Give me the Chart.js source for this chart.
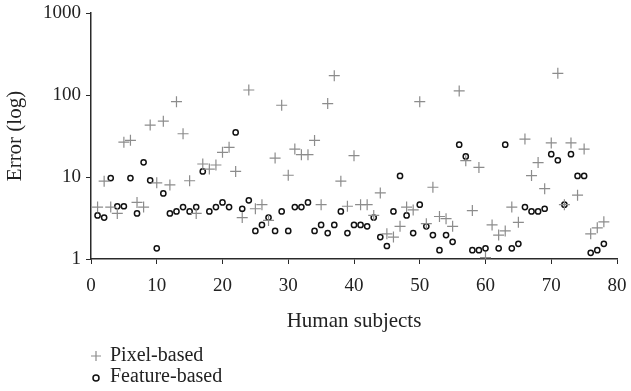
<!DOCTYPE html>
<html>
<head>
<meta charset="utf-8">
<script src="https://cdn.jsdelivr.net/npm/chart.js@4.4.0/dist/chart.umd.min.js"></script>
<style>
  html, body { margin: 0; padding: 0; background: #fff; }
  #wrap { width: 631px; height: 391px; position: relative; }
</style>
</head>
<body>
<div id="wrap"><canvas id="chart"></canvas></div>
<script>
// subjects on the x axis
const subjects = [
  1, 2, 3, 4, 5, 6, 7, 8, 9, 10, 11, 12, 13, 14, 15, 16, 17, 18, 19, 20,
  21, 22, 23, 24, 25, 26, 27, 28, 29, 30, 31, 32, 33, 34, 35, 36, 37, 38, 39, 40,
  41, 42, 43, 44, 45, 46, 47, 48, 49, 50, 51, 52, 53, 54, 55, 56, 57, 58, 59, 60,
  61, 62, 63, 64, 65, 66, 67, 68, 69, 70, 71, 72, 73, 74, 75, 76, 77, 78,
];

const pixelErrors = [
  4.3, 8.9, 4.3, 3.6, 26.6, 28, 4.9, 4.3, 43, 8.5,
  48, 8.0, 83, 33.7, 9.0, 3.6, 14.4, 12.5, 14, 20,
  23, 11.7, 3.2, 115, 4.1, 4.6, 2.95, 17, 75, 10.5,
  21.9, 18.7, 18.7, 27.9, 4.6, 78.6, 172, 8.9, 4.4, 18.2,
  4.6, 4.6, 3.4, 6.4, 2.03, 1.85, 2.5, 4.3, 3.97, 83,
  2.7, 7.5, 3.3, 3.1, 2.5, 112, 15.8, 3.9, 13.1, 1.04,
  2.6, 1.96, 2.2, 4.3, 2.8, 29, 10.4, 15, 7.2, 26,
  184, 4.6, 26, 6.0, 21.9, 2.03, 2.4, 2.84,
];

const featureErrors = [
  3.4, 3.2, 9.7, 4.4, 4.4, 9.7, 3.6, 15.1, 9.1, 1.35,
  6.3, 3.6, 3.8, 4.3, 3.8, 4.3, 11.7, 3.8, 4.3, 4.9,
  4.3, 35, 4.1, 5.2, 2.2, 2.6, 3.2, 2.2, 3.8, 2.2,
  4.3, 4.3, 4.9, 2.2, 2.6, 2.07, 2.6, 3.8, 2.07, 2.6,
  2.6, 2.5, 3.2, 1.85, 1.44, 3.8, 10.3, 3.4, 2.07, 4.6,
  2.5, 1.96, 1.28, 1.96, 1.62, 24.8, 17.8, 1.28, 1.28, 1.35,
  null, 1.35, 24.8, 1.35, 1.53, 4.3, 3.8, 3.8, 4.1, 19,
  16, 4.6, 19, 10.3, 10.3, 1.19, 1.28, 1.53,
];

const seriesNames = ['Pixel-based', 'Feature-based'];
const yTicks = [1, 10, 100, 1000];

const serif = "'Liberation Serif', 'DejaVu Serif', serif";
const axisColor = '#2a2a2a';

const toPoints = (values) => {
  return subjects
    .map((x, i) => ({ x: x, y: values[i] }))
    .filter((p) => p.y !== null);
};

// legend stacked under the axis title, drawn by hand
const stackedLegend = {
  id: 'stackedLegend',
  afterDraw(chart) {
    const ctx = chart.ctx;
    ctx.save();
    ctx.font = `20px ${serif}`;
    ctx.textBaseline = 'middle';
    ctx.fillStyle = '#222';
    chart.data.datasets.forEach((ds, i) => {
      const mx = 96;
      const my = 356 + i * 21;
      ctx.strokeStyle = ds.borderColor;
      ctx.lineWidth = ds.borderWidth;
      ctx.beginPath();
      if (ds.pointStyle === 'cross') {
        ctx.moveTo(mx - 5, my);
        ctx.lineTo(mx + 5, my);
        ctx.moveTo(mx, my - 5);
        ctx.lineTo(mx, my + 5);
      } else {
        ctx.arc(mx, my + 1, 3, 0, Math.PI * 2);
      }
      ctx.stroke();
      ctx.fillText(ds.label, 110, my);
    });
    ctx.restore();
  },
};

const ctx = document.getElementById('chart');
new Chart(ctx, {
  type: 'scatter',
  data: {
    datasets: [
      {
        label: seriesNames[0],
        data: toPoints(pixelErrors),
        pointStyle: 'cross',
        pointRadius: 5.5,
        borderColor: '#8c8c8c',
        borderWidth: 1.2,
        backgroundColor: 'rgba(0,0,0,0)',
      },
      {
        label: seriesNames[1],
        data: toPoints(featureErrors),
        pointStyle: 'circle',
        pointRadius: 2.6,
        borderColor: '#111',
        borderWidth: 1.5,
        backgroundColor: 'rgba(0,0,0,0)',
      },
    ],
  },
  options: {
    responsive: true,
    maintainAspectRatio: false,
    animation: false,
    layout: {
      padding: { left: 0, right: 0, top: 0, bottom: 57 },
    },
    plugins: {
      legend: { display: false },
      tooltip: { enabled: false },
    },
    scales: {
      x: {
        type: 'linear',
        min: 0,
        max: 80,
        afterFit: (scale) => {
          scale.paddingRight = 14;
        },
        ticks: {
          stepSize: 10,
          padding: 11,
          color: '#222',
          font: { family: serif, size: 19 },
        },
        grid: {
          drawOnChartArea: false,
          drawTicks: true,
          tickLength: 5,
          color: axisColor,
        },
        border: { color: axisColor, width: 1.5 },
        title: {
          display: true,
          text: 'Human subjects',
          color: '#222',
          font: { family: serif, size: 21 },
          padding: { top: 0, bottom: 0 },
        },
      },
      y: {
        type: 'logarithmic',
        min: 1,
        max: 1000,
        afterBuildTicks: (scale) => {
          scale.ticks = yTicks.map((v) => ({ value: v }));
        },
        afterFit: (scale) => {
          scale.width = 91;
          scale.paddingTop = 13;
        },
        ticks: {
          padding: 5,
          color: '#222',
          font: { family: serif, size: 19 },
          callback: (value) => String(value),
        },
        grid: {
          drawOnChartArea: false,
          drawTicks: true,
          tickLength: 5,
          color: axisColor,
        },
        border: { color: axisColor, width: 1.5 },
        title: {
          display: true,
          text: 'Error (log)',
          color: '#222',
          font: { family: serif, size: 21 },
          padding: { top: 3, bottom: 0 },
        },
      },
    },
  },
  plugins: [stackedLegend],
});
</script>
</body>
</html>
